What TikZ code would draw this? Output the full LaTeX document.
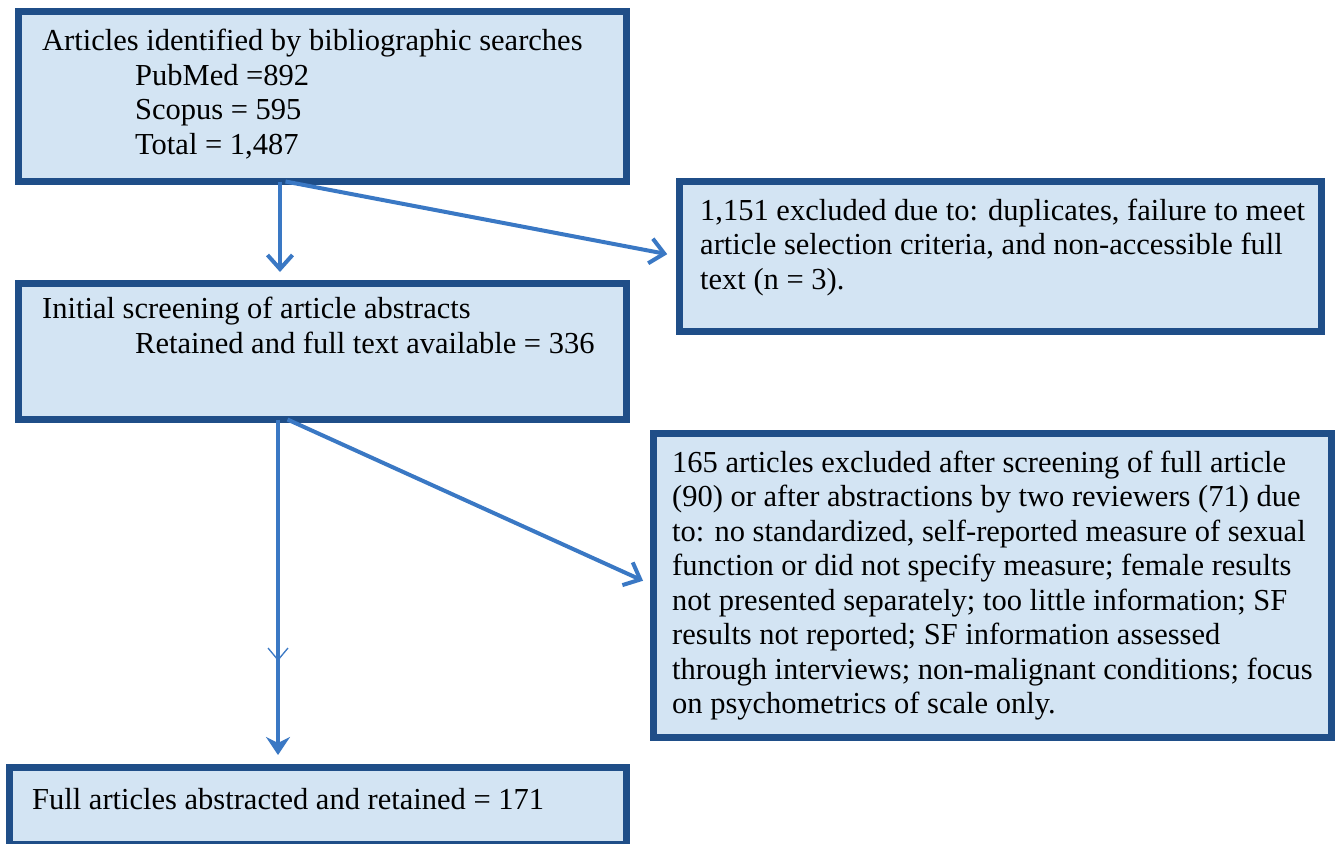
\documentclass[tikz,border=0pt]{standalone}
\usepackage{fontspec}
\setmainfont{Liberation Serif}
\usetikzlibrary{arrows.meta,calc}
\definecolor{boxborder}{HTML}{1F4E88}
\definecolor{boxfill}{HTML}{D3E4F3}
\definecolor{arrowblue}{HTML}{3A78C4}
\tikzset{
 box/.style={draw=boxborder, fill=boxfill, line width=7.5pt, rectangle, anchor=north west, inner sep=0pt, outer sep=0pt},
 txt/.style={anchor=base west, inner sep=0pt, align=left, font=\fontsize{30.5}{34.5}\selectfont},
 conn/.style={draw=arrowblue, line width=4pt, -{Straight Barb[length=14pt,width=25pt,line width=4pt]}},
 connend/.style={draw=arrowblue, line width=4pt, -{Stealth[length=18pt,width=24pt,inset=6pt]}},
}
\begin{document}
\begin{tikzpicture}[x=1pt,y=-1pt]
\useasboundingbox (0,0) rectangle (1340,843);
\fill[white] (0,0) rectangle (1340,843);
% boxes
\node[box, minimum width=608pt, minimum height=170pt] (b1) at (18.5,11.5) {};
\node[box, minimum width=642pt, minimum height=150pt] (b2) at (679.5,181.5) {};
\node[box, minimum width=608pt, minimum height=136pt] (b3) at (18.5,283.5) {};
\node[box, minimum width=678pt, minimum height=304pt] (b4) at (653.5,433.5) {};
\node[box, minimum width=617pt, minimum height=77pt] (b5) at (9.5,767.5) {};
% texts (anchor = baseline of the last line)
\node[txt] (t1) at (42,154) {Articles identified by bibliographic searches\\
\hspace*{93pt}PubMed =892\\
\hspace*{93pt}Scopus = 595\\
\hspace*{93pt}Total = 1,487};
\node[txt] (t2) at (700,289) {1,151 excluded due to: duplicates, failure to meet\\
article selection criteria, and non-accessible full\\
text (n = 3).};
\node[txt] (t3) at (42,353) {Initial screening of article abstracts\\
\hspace*{93pt}Retained and full text available = 336};
\node[txt] (t4) at (672,713.5) {165 articles excluded after screening of full article\\
(90) or after abstractions by two reviewers (71) due\\
to: no standardized, self-reported measure of sexual\\
function or did not specify measure; female results\\
not presented separately; too little information; SF\\
results not reported; SF information assessed\\
through interviews; non-malignant conditions; focus\\
on psychometrics of scale only.};
\node[txt] (t5) at (32,809) {Full articles abstracted and retained = 171};
% connectors
\draw[conn, shorten >=11.5pt] ([xshift=-42.5pt]b1.south) -- ([xshift=-42.5pt]b3.north);
\draw[conn, shorten >=12.5pt] ([xshift=-37pt]b1.south) -- (b2.west);
\draw[conn, shorten >=11.5pt] ([xshift=-35pt]b3.south) -- (b4.west);
\draw[connend, shorten >=12.5pt] ([xshift=-44.5pt]b3.south) -- ([xshift=-40pt]b5.north);
\draw[arrowblue, line width=1.3pt] (268,648) -- (278,660) -- (288,648);
\end{tikzpicture}
\end{document}
